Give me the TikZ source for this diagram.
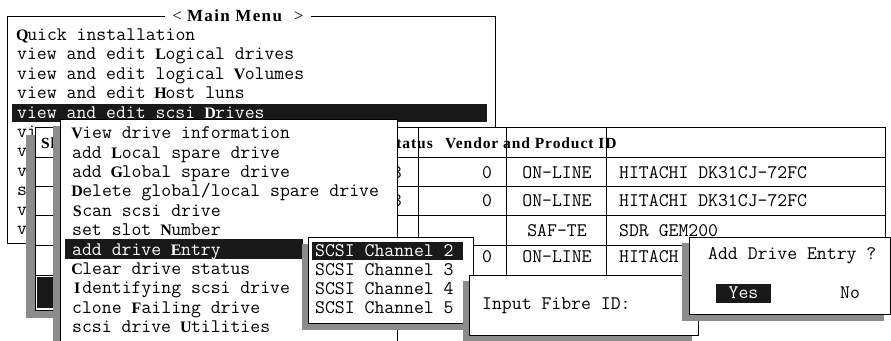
\documentclass[tikz,border=0pt]{standalone}
\usepackage{fontspec}
\setmainfont{Liberation Serif}
\newcommand\menufont{\ttfamily\fontsize{19.2}{19.2}\selectfont}
\newcommand\hk[1]{\makebox[10.08pt][c]{\rmfamily\bfseries\fontsize{16}{16}\selectfont #1}}
\newcommand\headfont{\rmfamily\bfseries\fontsize{15.5}{15.5}\selectfont\addfontfeatures{LetterSpace=6}}

\begin{document}
\begin{tikzpicture}[x=1pt,y=-1pt,
    win/.style={draw=black, fill=white, line width=1pt},
    shade/.style={fill=black!45},
    bar/.style={fill=black!90},
    item/.style={anchor=base west, inner sep=0pt, font=\menufont},
    hitem/.style={item, text=white},
    cell/.style={anchor=base, inner sep=0pt, font=\menufont},
    head/.style={anchor=base west, inner sep=0pt, font=\headfont}]
  \useasboundingbox[fill=white] (0,0) rectangle (891,340);
  % main menu
  \draw[win] (7,16) rectangle (495,243);
  \node[fill=white, inner xsep=7pt, inner ysep=2pt] (title) at (238,16)
    {\rmfamily\fontsize{17}{17}\selectfont <\hspace{5pt}{\bfseries\addfontfeatures{LetterSpace=8}Main Menu}\hspace{12pt}>};
  \node[item] (m1) at (17,40.5) {\hk{Q}uick installation};
  \node[item] (m2) at (17,59.9) {view and edit \hk{L}ogical drives};
  \node[item] (m3) at (17,79.3) {view and edit logical \hk{V}olumes};
  \node[item] (m4) at (17,98.7) {view and edit \hk{H}ost luns};
  \fill[bar] (12,104) rectangle (487,122);
  \node[hitem] (m5) at (17,118.1) {view and edit scsi \hk{D}rives};
  \node[item] (m6) at (17,137.5) {vi};
  \node[item] (m7) at (17,156.9) {v};
  \node[item] (m8) at (17,176.3) {v};
  \node[item] (m9) at (17,195.7) {s};
  \node[item] (m10) at (17,215.1) {v};
  \node[item] (m11) at (17,234.5) {v};
  % drive table
  \fill[shade] (26,135) rectangle (876,318);
  \draw[win] (35,127) rectangle (885,310);
  \foreach \y in {157,186,215,245,275} \draw[line width=1pt] (35,\y) -- (885,\y);
  \foreach \x in {55,418,506,606} \draw[line width=1pt] (\x,127) -- (\x,310);
  \fill[bar] (37,277) rectangle (55,308);
  \node[head] (slot) at (41,148) {Sl};
  \node[head, anchor=base east] (status) at (433,148) {Status};
  \node[head] (vendor) at (445,148) {Vendor and Product ID};
  \node[cell, anchor=base east] (id1) at (402,178) {8};
  \node[cell] (lun1) at (487,178) {0};
  \node[cell] (st1) at (557,178) {ON-LINE};
  \node[item] (pr1) at (619,178) {HITACHI DK31CJ-72FC};
  \node[cell, anchor=base east] (id2) at (402,206.5) {8};
  \node[cell] (lun2) at (487,206.5) {0};
  \node[cell] (st2) at (557,206.5) {ON-LINE};
  \node[item] (pr2) at (619,206.5) {HITACHI DK31CJ-72FC};
  \node[cell] (st3) at (557,236) {SAF-TE};
  \node[item] (pr3) at (619,236) {SDR GEM200};
  \node[cell] (lun4) at (487,262) {0};
  \node[cell] (st4) at (557,262) {ON-LINE};
  \node[item] (pr4) at (619,262) {HITACH};
  % drive menu
  \fill[shade] (53,126) rectangle (390,352);
  \draw[win] (60,119) rectangle (397,350);
  \node[item] (d1) at (72,138.6) {\hk{V}iew drive information};
  \node[item] (d2) at (72,158) {add \hk{L}ocal spare drive};
  \node[item] (d3) at (72,177.4) {add \hk{G}lobal spare drive};
  \node[item] (d4) at (72,196.8) {\hk{D}elete global/local spare drive};
  \node[item] (d5) at (72,216.2) {\hk{S}can scsi drive};
  \node[item] (d6) at (72,235.6) {set slot \hk{N}umber};
  \fill[bar] (65,239) rectangle (303,259);
  \node[hitem] (d7) at (72,255) {add drive \hk{E}ntry};
  \node[item] (d8) at (72,274.4) {\hk{C}lear drive status};
  \node[item] (d9) at (72,293.8) {\hk{I}dentifying scsi drive};
  \node[item] (d10) at (72,313.2) {clone \hk{F}ailing drive};
  \node[item] (d11) at (72,332.6) {scsi drive \hk{U}tilities};
  % channel menu
  \fill[shade] (302,244) rectangle (467,330);
  \draw[win] (308,237) rectangle (473,323);
  \fill[bar] (312,242) rectangle (463,260);
  \node[hitem] (c2) at (315,256) {SCSI Channel 2};
  \node[item] (c3) at (315,275) {SCSI Channel 3};
  \node[item] (c4) at (315,294) {SCSI Channel 4};
  \node[item] (c5) at (315,313) {SCSI Channel 5};
  % fibre id
  \fill[shade] (463,281) rectangle (692,342);
  \draw[win] (469,275) rectangle (698,335);
  \node[item] (fibre) at (482,309) {Input Fibre ID:};
  % confirm
  \fill[shade] (682,243) rectangle (884,321);
  \draw[win] (689,237) rectangle (890,314);
  \node[item] (ask) at (708,259) {Add Drive Entry ?};
  \fill[bar] (716,284) rectangle (771,303);
  \node[cell, text=white] (yes) at (743.5,298) {Yes};
  \node[cell] (no) at (850,298) {No};
\end{tikzpicture}
\end{document}
